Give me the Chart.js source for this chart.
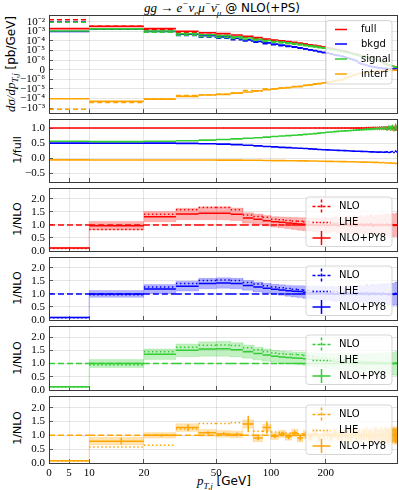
<!DOCTYPE html>
<html>
<head>
<meta charset="utf-8">
<script src="https://cdn.jsdelivr.net/npm/chart.js@4.4.1/dist/chart.umd.min.js"></script>
<style>
  body { margin: 0; background: #fff; width: 399px; height: 490px; position: relative; overflow: hidden; font-family: "DejaVu Sans", sans-serif; }
  canvas { position: absolute; left: 0; }
  .lbl { position: absolute; white-space: nowrap; color: #000; line-height: 1; }
  .rot { transform: translate(-50%, -50%) rotate(-90deg); }
  .m { font-family: "Liberation Serif", serif; font-style: italic; }
  sub, sup { font-size: 70%; line-height: 0; }
</style>
</head>
<body>
<div class="lbl" style="left:222px;top:1px;transform:translateX(-50%);font-size:12px">
  <span class="m" style="font-size:13px">gg → e<sup>−</sup>ν<sub>e</sub>μ<sup>−</sup>ν̄<sub>μ</sub></span> @ NLO(+PS)
</div>
<div class="lbl rot" style="left:10px;top:64px;font-size:12px"><span class="m" style="font-size:13px">dσ/dp<sub>T,j</sub></span> [pb/GeV]</div>
<div class="lbl rot" style="left:17px;top:150px;font-size:11px">1/full</div>
<div class="lbl rot" style="left:17px;top:219px;font-size:11px">1/NLO</div>
<div class="lbl rot" style="left:17px;top:288px;font-size:11px">1/NLO</div>
<div class="lbl rot" style="left:17px;top:358px;font-size:11px">1/NLO</div>
<div class="lbl rot" style="left:17px;top:428px;font-size:11px">1/NLO</div>
<div class="lbl" style="left:224px;top:474px;transform:translateX(-50%);font-size:12px"><span class="m" style="font-size:13px">p<sub>T,j</sub></span> [GeV]</div>

<script>
// bin edges in GeV
const edges = [0,10,20,30,40,50,60,70,80,90,100,110,120,130,140,150,160,170,180,190,200,
  210,220,230,240,250,260,270,280,290,300,310,320,330,340,350,360,370,380,390,400,
  410,420,430,440,450,460,470,480,490,500];

// full, NLO+PY8 [pb/GeV]
const full = [1.9e-3, 3.3e-3, 1.9e-3, 1.0e-3, 7.2e-4, 5.7e-4, 4.15e-4, 3.0e-4, 2.2e-4, 1.6e-4,
  1.23e-4, 1.02e-4, 8.4e-5, 7.0e-5, 5.8e-5, 4.8e-5, 3.9e-5, 3.3e-5, 2.7e-5, 2.25e-5,
  1.95e-5, 1.65e-5, 1.38e-5, 1.16e-5, 9.7e-6, 8.1e-6, 6.8e-6, 5.7e-6, 4.8e-6, 4.0e-6,
  3.2e-6, 2.8e-6, 2.45e-6, 2.15e-6, 1.9e-6, 1.65e-6, 1.45e-6, 1.27e-6, 1.1e-6, 9.7e-7,
  8.5e-7, 7.4e-7, 6.5e-7, 5.7e-7, 5.0e-7, 4.4e-7, 3.8e-7, 3.3e-7, 2.9e-7, 2.6e-7];

// fractions of full (middle panel, NLO+PY8)
const sigFrac = [0.56, 0.55, 0.56, 0.58, 0.60, 0.62, 0.64, 0.66, 0.68, 0.70,
  0.72, 0.735, 0.75, 0.76, 0.775, 0.79, 0.80, 0.815, 0.83, 0.845,
  0.86, 0.87, 0.88, 0.89, 0.90, 0.905, 0.91, 0.92, 0.925, 0.93,
  0.94, 0.945, 0.95, 0.955, 0.96, 0.965, 0.97, 0.975, 0.98, 0.98,
  0.99, 0.985, 1.0, 0.97, 1.02, 0.99, 1.03, 0.96, 1.05, 1.0];
const bkgFrac = [0.50, 0.50, 0.50, 0.49, 0.48, 0.465, 0.45, 0.43, 0.41, 0.39,
  0.375, 0.36, 0.35, 0.34, 0.33, 0.32, 0.31, 0.30, 0.29, 0.28,
  0.275, 0.27, 0.265, 0.26, 0.255, 0.25, 0.245, 0.24, 0.235, 0.23,
  0.23, 0.225, 0.22, 0.22, 0.215, 0.21, 0.21, 0.205, 0.20, 0.20,
  0.205, 0.195, 0.20, 0.21, 0.19, 0.20, 0.22, 0.19, 0.23, 0.21];
const intFrac = [-0.055, -0.06, -0.06, -0.06, -0.06, -0.065, -0.065, -0.07, -0.07, -0.075,
  -0.08, -0.08, -0.085, -0.085, -0.09, -0.09, -0.095, -0.095, -0.10, -0.10,
  -0.105, -0.105, -0.11, -0.11, -0.115, -0.115, -0.12, -0.12, -0.12, -0.125,
  -0.125, -0.13, -0.13, -0.13, -0.135, -0.135, -0.14, -0.14, -0.14, -0.145,
  -0.15, -0.145, -0.16, -0.15, -0.17, -0.155, -0.17, -0.16, -0.18, -0.17];
// relative stat. error of full
const statFull = [0.01, 0.005, 0.005, 0.005, 0.006, 0.006, 0.007, 0.007, 0.008, 0.008,
  0.009, 0.01, 0.01, 0.011, 0.012, 0.013, 0.014, 0.015, 0.016, 0.017,
  0.018, 0.02, 0.021, 0.022, 0.024, 0.025, 0.027, 0.029, 0.03, 0.032,
  0.034, 0.036, 0.038, 0.04, 0.043, 0.045, 0.048, 0.05, 0.053, 0.056,
  0.06, 0.063, 0.066, 0.07, 0.074, 0.078, 0.082, 0.087, 0.092, 0.1];

// ratios to NLO: NLO+PY8, LHE, scale band half width
const pyFull = [0.12, 0.97, 1.32, 1.42, 1.45, 1.45, 1.41, 1.27, 1.22, 1.16,
  1.12, 1.10, 1.08, 1.06, 1.04, 1.03, 1.02, 1.01, 0.99, 1.02,
  0.98, 1.0, 1.03, 0.97, 1.01, 0.99, 1.02, 0.98, 1.04, 0.96,
  1.0, 1.03, 0.97, 1.02, 0.99, 1.05, 0.95, 1.01, 0.98, 1.03,
  0.97, 1.02, 0.99, 1.04, 0.96, 1.0, 1.02, 0.98, 1.0, 1.01];
const lheFull = [0.10, 0.83, 1.41, 1.58, 1.67, 1.67, 1.58, 1.38, 1.33, 1.30,
  1.22, 1.20, 1.17, 1.15, 1.14, 1.12, 1.11, 1.10, 1.09, 1.08,
  1.08, 1.07, 1.07, 1.06, 1.06, 1.05, 1.05, 1.05, 1.04, 1.04,
  1.04, 1.03, 1.03, 1.03, 1.03, 1.02, 1.02, 1.02, 1.02, 1.02,
  1.02, 1.01, 1.01, 1.01, 1.01, 1.01, 1.0, 1.0, 1.0, 1.0];
const bandFull = [0.02, 0.16, 0.2, 0.22, 0.25, 0.25, 0.24, 0.2, 0.2, 0.2,
  0.2, 0.21, 0.22, 0.23, 0.24, 0.25, 0.25, 0.26, 0.27, 0.27,
  0.28, 0.28, 0.29, 0.29, 0.3, 0.3, 0.31, 0.31, 0.32, 0.32,
  0.33, 0.33, 0.34, 0.34, 0.35, 0.35, 0.36, 0.36, 0.37, 0.37,
  0.38, 0.38, 0.39, 0.4, 0.4, 0.41, 0.42, 0.43, 0.44, 0.45];

const pyBkgd = [0.10, 1.0, 1.19, 1.30, 1.40, 1.42, 1.40, 1.33, 1.27, 1.22,
  1.18, 1.15, 1.12, 1.10, 1.09, 1.07, 1.06, 1.05, 1.04, 1.03,
  1.02, 1.03, 0.99, 1.02, 1.0, 0.98, 1.03, 0.99, 1.01, 0.97,
  1.02, 1.0, 0.98, 1.04, 0.97, 1.01, 1.03, 0.98, 1.0, 1.02,
  0.97, 1.03, 0.99, 1.01, 0.96, 1.02, 1.0, 0.98, 1.03, 1.0];
const lheBkgd = [0.09, 0.97, 1.27, 1.40, 1.52, 1.54, 1.52, 1.44, 1.38, 1.32,
  1.27, 1.24, 1.21, 1.18, 1.16, 1.14, 1.13, 1.12, 1.11, 1.10,
  1.09, 1.09, 1.08, 1.08, 1.07, 1.07, 1.06, 1.06, 1.05, 1.05,
  1.05, 1.04, 1.04, 1.04, 1.03, 1.03, 1.03, 1.03, 1.02, 1.02,
  1.02, 1.02, 1.01, 1.01, 1.01, 1.01, 1.0, 1.0, 1.0, 1.0];
const bandBkgd = [0.02, 0.13, 0.17, 0.19, 0.2, 0.2, 0.2, 0.19, 0.19, 0.19,
  0.19, 0.2, 0.21, 0.22, 0.23, 0.24, 0.24, 0.25, 0.26, 0.26,
  0.27, 0.27, 0.28, 0.28, 0.29, 0.29, 0.3, 0.3, 0.31, 0.31,
  0.32, 0.32, 0.33, 0.33, 0.34, 0.34, 0.35, 0.35, 0.36, 0.36,
  0.37, 0.37, 0.38, 0.39, 0.39, 0.4, 0.41, 0.42, 0.43, 0.44];

const pySignal = [0.12, 1.0, 1.35, 1.50, 1.55, 1.56, 1.52, 1.45, 1.38, 1.32,
  1.28, 1.25, 1.23, 1.21, 1.2, 1.18, 1.16, 1.15, 1.13, 1.12,
  1.1, 1.1, 1.08, 1.07, 1.08, 1.05, 1.06, 1.04, 1.05, 1.02,
  1.04, 1.01, 1.03, 1.0, 1.02, 0.99, 1.03, 1.0, 1.01, 0.98,
  1.02, 1.0, 0.99, 1.02, 0.98, 1.01, 1.0, 0.99, 1.02, 1.0];
const lheSignal = [0.11, 0.95, 1.45, 1.62, 1.69, 1.70, 1.68, 1.60, 1.52, 1.45,
  1.40, 1.37, 1.35, 1.34, 1.33, 1.30, 1.28, 1.26, 1.24, 1.22,
  1.2, 1.19, 1.17, 1.16, 1.15, 1.14, 1.13, 1.12, 1.11, 1.1,
  1.09, 1.08, 1.08, 1.07, 1.06, 1.06, 1.05, 1.05, 1.04, 1.04,
  1.03, 1.03, 1.03, 1.02, 1.02, 1.02, 1.01, 1.01, 1.01, 1.0];
const bandSignal = [0.02, 0.15, 0.2, 0.24, 0.27, 0.28, 0.27, 0.25, 0.24, 0.23,
  0.22, 0.22, 0.23, 0.23, 0.24, 0.25, 0.25, 0.26, 0.27, 0.27,
  0.28, 0.28, 0.29, 0.29, 0.3, 0.3, 0.31, 0.31, 0.32, 0.32,
  0.33, 0.33, 0.34, 0.34, 0.35, 0.35, 0.36, 0.36, 0.37, 0.37,
  0.38, 0.38, 0.39, 0.4, 0.4, 0.41, 0.42, 0.43, 0.44, 0.45];

const pyInterf = [0.08, 0.79, 1.0, 1.28, 1.09, 1.05, 1.03, 1.41, 0.90, 1.28,
  0.97, 1.05, 0.95, 1.08, 0.9, 1.02, 0.95, 1.06, 0.92, 1.0,
  1.04, 0.96, 1.08, 0.98, 0.94, 1.05, 1.0, 0.93, 1.07, 0.99,
  1.03, 0.95, 1.02, 1.06, 0.97, 1.0, 0.94, 1.05, 1.01, 0.98,
  1.04, 0.96, 1.02, 1.0, 0.97, 1.03, 0.99, 1.01, 0.98, 1.0];
const lheInterf = [0.07, 0.58, 0.64, 1.23, 1.43, 1.43, 1.45, 1.42, 1.15, 1.15,
  1.12, 1.1, 1.08, 1.07, 1.06, 1.05, 1.05, 1.04, 1.04, 1.03,
  1.03, 1.03, 1.02, 1.02, 1.02, 1.02, 1.02, 1.01, 1.01, 1.01,
  1.01, 1.01, 1.01, 1.0, 1.0, 1.0, 1.0, 1.0, 1.0, 1.0,
  1.0, 1.0, 1.0, 1.0, 1.0, 1.0, 1.0, 1.0, 1.0, 1.0];
const bandInterf = [0.02, 0.14, 0.1, 0.14, 0.12, 0.12, 0.12, 0.15, 0.13, 0.13,
  0.12, 0.13, 0.13, 0.14, 0.14, 0.15, 0.15, 0.16, 0.16, 0.17,
  0.17, 0.18, 0.18, 0.19, 0.19, 0.2, 0.2, 0.21, 0.21, 0.22,
  0.22, 0.23, 0.23, 0.24, 0.24, 0.25, 0.25, 0.26, 0.26, 0.27,
  0.27, 0.28, 0.28, 0.29, 0.29, 0.3, 0.3, 0.31, 0.31, 0.32];
const errInterf = [0.01, 0.12, 0.05, 0.12, 0.06, 0.06, 0.07, 0.3, 0.08, 0.22,
  0.08, 0.08, 0.09, 0.09, 0.1, 0.1, 0.11, 0.11, 0.12, 0.12,
  0.13, 0.13, 0.14, 0.14, 0.15, 0.15, 0.16, 0.16, 0.17, 0.17,
  0.18, 0.18, 0.19, 0.19, 0.2, 0.2, 0.21, 0.21, 0.22, 0.22,
  0.23, 0.23, 0.24, 0.24, 0.25, 0.25, 0.26, 0.26, 0.27, 0.27];

const xTicks = [0, 5, 10, 20, 50, 100, 200];
const mainTicks = [1e-2, 1e-3, 1e-4, 1e-5, 1e-6, 0, -1e-6, -1e-5, -1e-4, -1e-3];
const fracTicks = [-0.5, 0, 0.5, 1];
const ratioTicks = [0, 0.5, 1, 1.5, 2];

const RED = '#ff0000', BLUE = '#0000ff', GREEN = '#32cd32', ORANGE = '#ffa500';
const SERIF = '"Liberation Serif", serif';
const GRID = 'rgba(0,0,0,0.13)';

// x: linear 0-10, log above ; y(main): symlog, linthresh 1e-6
const K = 40 / 181;
const ptT = v => v <= 10 ? v / 10 * K : K + Math.log10(v / 10);
const ptInv = t => t <= K ? t / K * 10 : 10 * Math.pow(10, t - K);
const LT = 1e-6;
const slT = v => Math.abs(v) <= LT ? v / LT : Math.sign(v) * (1 + Math.log10(Math.abs(v) / LT));
const slInv = t => Math.abs(t) <= 1 ? t * LT : Math.sign(t) * LT * Math.pow(10, Math.abs(t) - 1);

function makeScale(id, fwd, inv, tickList) {
  class S extends Chart.LinearScale {
    buildTicks() { return tickList.map(v => ({ value: v })); }
    getPixelForValue(v) {
      if (v === null || v === undefined || isNaN(v)) return NaN;
      const a = fwd(this.min), b = fwd(this.max);
      return this.getPixelForDecimal((fwd(v) - a) / (b - a));
    }
    getValueForPixel(p) {
      const a = fwd(this.min), b = fwd(this.max);
      return inv(a + this.getDecimalForPixel(p) * (b - a));
    }
  }
  S.id = id;
  S.defaults = {};
  return S;
}
Chart.register(makeScale('ptscale', ptT, ptInv, xTicks), makeScale('symlog', slT, slInv, mainTicks));

function rgba(hex, a) {
  const n = parseInt(hex.slice(1), 16);
  return `rgba(${n >> 16},${(n >> 8) & 255},${n & 255},${a})`;
}
// horizontal bar per bin, no connectors
function bins(vals) {
  const pts = [];
  vals.forEach((v, i) => { pts.push({ x: edges[i], y: v }, { x: edges[i + 1], y: v }, { x: edges[i + 1], y: null }); });
  return pts;
}
// continuous step outline (for bands)
function steps(vals) {
  const pts = [];
  vals.forEach((v, i) => { pts.push({ x: edges[i], y: v }, { x: edges[i + 1], y: v }); });
  return pts;
}
function errBars(vals, errs) {
  const pts = [];
  vals.forEach((v, i) => {
    const c = (edges[i] + edges[i + 1]) / 2;
    pts.push({ x: c, y: v - errs[i] }, { x: c, y: v + errs[i] }, { x: c, y: null });
  });
  return pts;
}
function line(data, color, width, dash) {
  return { data, borderColor: color, borderWidth: width, borderDash: dash || [], pointRadius: 0, fill: false, tension: 0 };
}
const sup = s => s.replace(/-/g, '⁻').replace(/\d/g, d => '⁰¹²³⁴⁵⁶⁷⁸⁹'[d]);
const minus = s => s.replace('-', '−');

const framePlugin = {
  id: 'frame',
  afterDraw(chart) {
    const { ctx, chartArea: a } = chart;
    ctx.save();
    ctx.strokeStyle = '#3a3a3a';
    ctx.lineWidth = 1;
    ctx.strokeRect(Math.round(a.left) + 0.5, Math.round(a.top) + 0.5, Math.round(a.right - a.left) - 1, Math.round(a.bottom - a.top));
    ctx.restore();
  }
};

function legendPlugin(kind, items) {
  return {
    id: 'boxLegend',
    afterDatasetsDraw(chart) {
      const { ctx, chartArea: a } = chart;
      let bw, bh, by, rows;
      if (kind === 'main') { bw = 66; bh = 63.5; by = a.top + 5.5; rows = [9, 23.5, 38.5, 53.5]; }
      else { bw = 86; bh = 49.5; by = a.top + 9; rows = [9.5, 25.5, 41]; }
      const bx = a.right - 6 - bw;
      ctx.save();
      ctx.beginPath();
      ctx.roundRect(bx, by, bw, bh, 3);
      ctx.fillStyle = 'rgba(255,255,255,0.8)';
      ctx.fill();
      ctx.strokeStyle = 'rgba(204,204,204,0.8)';
      ctx.lineWidth = 1;
      ctx.stroke();
      ctx.font = '10px "DejaVu Sans"';
      ctx.textBaseline = 'middle';
      items.forEach((it, i) => {
        const y = by + rows[i];
        ctx.strokeStyle = it.color;
        ctx.lineWidth = 1.5;
        if (kind === 'main') {
          ctx.beginPath(); ctx.moveTo(bx + 9, y); ctx.lineTo(bx + 21, y); ctx.stroke();
          ctx.fillStyle = '#000';
          ctx.fillText(it.label, bx + 35, y);
        } else {
          const cx = bx + 15.5;
          ctx.setLineDash(it.style === 'dash' ? [3, 2] : it.style === 'dot' ? [1.5, 2] : []);
          ctx.beginPath();
          ctx.moveTo(cx - 9, y); ctx.lineTo(cx + 9, y);
          if (it.style !== 'dot') { ctx.moveTo(cx, y - 7); ctx.lineTo(cx, y + 7); }
          ctx.stroke();
          ctx.setLineDash([]);
          ctx.fillStyle = '#000';
          ctx.fillText(it.label, bx + 33, y);
        }
      });
      ctx.restore();
    }
  };
}

function makePanel(top, bottom, yOpts, datasets, legend, last) {
  const extra = last ? 30 : 0;
  const H = bottom - top + 6 + extra;
  const cv = document.createElement('canvas');
  cv.width = 399; cv.height = H;
  cv.style.width = '399px'; cv.style.height = H + 'px';
  cv.style.top = (top - 3) + 'px';
  document.body.appendChild(cv);
  datasets.forEach((d, i) => { d.order = datasets.length - i; });
  const tickFont = { family: SERIF, size: 11 };
  new Chart(cv, {
    type: 'line',
    data: { datasets },
    options: {
      responsive: false, animation: false, devicePixelRatio: 1, events: [],
      layout: { padding: { top: 3, bottom: 3, left: 0, right: 1 } },
      plugins: { legend: { display: false }, tooltip: { enabled: false } },
      scales: {
        x: {
          type: 'ptscale', min: 0, max: 500, position: 'bottom',
          afterFit: s => { s.height = last ? 27 : 0; s.paddingLeft = 0; s.paddingRight = 0; },
          border: { display: false },
          grid: { color: GRID, lineWidth: 0.8, tickLength: -4, tickColor: '#333', tickWidth: 0.8 },
          ticks: { display: !!last, autoSkip: false, maxRotation: 0, padding: 8, font: tickFont, color: '#000', callback: v => String(v) }
        },
        y: Object.assign({
          position: 'left',
          afterFit: s => { s.width = 49; s.paddingTop = 0; s.paddingBottom = 0; },
          border: { display: false },
          grid: { color: GRID, lineWidth: 0.8, tickLength: -4, tickColor: '#333', tickWidth: 0.8 }
        }, yOpts)
      }
    },
    plugins: [framePlugin, legend]
  });
}

// ---------- panel 1: differential cross sections ----------
const sig = full.map((v, i) => v * sigFrac[i]);
const bkg = full.map((v, i) => v * bkgFrac[i]);
const itf = full.map((v, i) => v * intFrac[i]);
const fullNLO = full.map((v, i) => v / pyFull[i]);
const sigNLO = sig.map((v, i) => v / pySignal[i]);
const bkgNLO = bkg.map((v, i) => v / pyBkgd[i]);
const itfNLO = itf.map((v, i) => v / pyInterf[i]);

makePanel(15, 113, {
  type: 'symlog', min: -3.2e-3, max: 5e-2,
  ticks: { autoSkip: false, padding: 8, font: { family: SERIF, size: 11 }, color: '#000',
    callback: v => v === 0 ? '0' : (v < 0 ? '−' : '') + '10' + sup(String(Math.round(Math.log10(Math.abs(v))))) }
}, [
  line(bins(fullNLO), RED, 1.5, [5, 3]), line(bins(full), RED, 1.6),
  line(bins(bkgNLO), BLUE, 1.5, [5, 3]), line(bins(bkg), BLUE, 1.6),
  line(bins(sigNLO), GREEN, 1.5, [5, 3]), line(bins(sig), GREEN, 1.6),
  line(bins(itfNLO), ORANGE, 1.5, [5, 3]), line(bins(itf), ORANGE, 1.6)
], legendPlugin('main', [
  { label: 'full', color: RED }, { label: 'bkgd', color: BLUE },
  { label: 'signal', color: GREEN }, { label: 'interf', color: ORANGE }
]));

// ---------- panel 2: fraction of full ----------
const fullOne = full.map(v => v / v);
const absErr = f => f.map((v, i) => Math.abs(v) * statFull[i]);

makePanel(119, 182, {
  type: 'linear', min: -0.79, max: 1.3,
  afterBuildTicks: s => { s.ticks = fracTicks.map(v => ({ value: v })); },
  ticks: { autoSkip: false, padding: 8, font: { family: SERIF, size: 11 }, color: '#000', callback: v => minus(v.toFixed(1)) }
}, [
  line(bins(fullOne), RED, 1.6), line(errBars(fullOne, statFull), RED, 1.2),
  line(bins(bkgFrac), BLUE, 1.6), line(errBars(bkgFrac, absErr(bkgFrac)), BLUE, 1.2),
  line(bins(sigFrac), GREEN, 1.6), line(errBars(sigFrac, absErr(sigFrac)), GREEN, 1.2),
  line(bins(intFrac), ORANGE, 1.6), line(errBars(intFrac, absErr(intFrac)), ORANGE, 1.2)
], { id: 'none' });

// ---------- ratio panels ----------
function ratioPanel(top, bottom, color, py, lhe, band, err, last) {
  const hi = py.map((v, i) => v + band[i]);
  const lo = py.map((v, i) => v - band[i]);
  const nlo = py.map(v => v / v);
  const ds = [
    { data: steps(hi), borderColor: rgba(color, 0.25), borderWidth: 0.6, pointRadius: 0, fill: false, tension: 0 },
    { data: steps(lo), borderColor: rgba(color, 0.25), borderWidth: 0.6, pointRadius: 0, fill: '-1', backgroundColor: rgba(color, 0.3), tension: 0 },
    line(bins(nlo), color, 1.5, [6, 3]),
    line(bins(lhe), color, 1.5, [1.5, 2.5]),
    line(bins(py), color, 1.5)
  ];
  if (err) ds.push(line(errBars(py, err), color, 1.5));
  makePanel(top, bottom, {
    type: 'linear', min: 0, max: 2.42,
    afterBuildTicks: s => { s.ticks = ratioTicks.map(v => ({ value: v })); },
    ticks: { autoSkip: false, padding: 8, font: { family: SERIF, size: 11 }, color: '#000', callback: v => v.toFixed(1) }
  }, ds, legendPlugin('ratio', [
    { label: 'NLO', color, style: 'dash' }, { label: 'LHE', color, style: 'dot' }, { label: 'NLO+PY8', color, style: 'solid' }
  ]), last);
}
ratioPanel(188, 251, RED, pyFull, lheFull, bandFull, null, false);
ratioPanel(257, 320, BLUE, pyBkgd, lheBkgd, bandBkgd, null, false);
ratioPanel(326, 390, GREEN, pySignal, lheSignal, bandSignal, null, false);
ratioPanel(396, 460, ORANGE, pyInterf, lheInterf, bandInterf, errInterf, true);
</script>
</body>
</html>
